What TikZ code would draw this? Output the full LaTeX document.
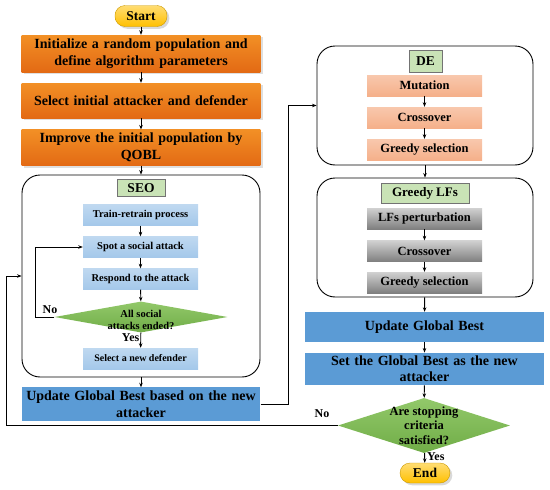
\documentclass[tikz,border=0pt]{standalone}
\usepackage{fontspec}
\setmainfont{Liberation Serif}
\usepackage{tikz}
\usetikzlibrary{shapes.geometric,arrows.meta,shadows}
\definecolor{initOrange}{HTML}{F07C2C}
\definecolor{initOrangeDark}{HTML}{E36A14}
\definecolor{bestBlue}{HTML}{5B9BD5}
\definecolor{seoBlue}{HTML}{A4C8EA}
\definecolor{tagGreen}{HTML}{C9E3B6}
\definecolor{decGreen}{HTML}{70AD47}
\definecolor{decGreenLight}{HTML}{92C86A}
\definecolor{deSalmon}{HTML}{F5B08A}
\definecolor{termYellow}{HTML}{FFC000}

\begin{document}
\begin{tikzpicture}[x=1pt, y=-1pt, font=\bfseries,
    arrow/.style={-{Stealth[length=4.5pt,width=3.5pt]}, line width=0.9pt},
    terminal/.style={rounded corners=10pt, top color=termYellow!55, bottom color=termYellow,
      draw=termYellow!80!black, line width=0.4pt, drop shadow={opacity=0.3},
      minimum width=52pt, minimum height=21pt, font=\bfseries\fontsize{13.5}{15}\selectfont},
    initbox/.style={top color=initOrange!85!yellow, bottom color=initOrangeDark, draw=none,
      drop shadow={opacity=0.25}, minimum width=238pt, text width=232pt, align=center,
      font=\bfseries\fontsize{14}{17}\selectfont},
    bestbox/.style={fill=bestBlue, minimum width=238pt, text width=232pt, align=center,
      font=\bfseries\fontsize{14}{16.5}\selectfont},
    container/.style={draw, line width=0.9pt, rounded corners=18pt},
    tagbox/.style={fill=tagGreen, draw=black!55, line width=0.5pt, inner sep=2pt,
      font=\bfseries\fontsize{13.5}{15}\selectfont},
    seostep/.style={top color=seoBlue!70, bottom color=seoBlue, minimum width=115pt,
      minimum height=21pt, font=\bfseries\fontsize{10.5}{12}\selectfont},
    destep/.style={top color=deSalmon!70, bottom color=deSalmon, minimum width=115pt,
      minimum height=21pt, font=\bfseries\fontsize{12.5}{14}\selectfont},
    lfstep/.style={top color=black!18, bottom color=black!50, minimum width=115pt,
      minimum height=21pt, font=\bfseries\fontsize{12.5}{14}\selectfont},
    decision/.style={diamond, top color=decGreenLight, bottom color=decGreen, inner sep=0pt},
    lbl/.style={font=\bfseries\fontsize{12}{13}\selectfont}]
  \useasboundingbox (0,0) rectangle (550,490);

  % left column
  \node[terminal] (start) at (141,16) {Start};
  \node[initbox, minimum height=37pt] (init) at (141,53.5)
    {Initialize a random population and\\define algorithm parameters};
  \node[initbox, minimum height=35pt] (select) at (141,100.5) {Select initial attacker and defender};
  \node[initbox, minimum height=35pt] (improve) at (141,147.5) {Improve the initial population by\\QOBL};

  % SEO block
  \node[container, minimum width=238pt, minimum height=202pt] (seo) at (141,276) {};
  \node[tagbox, minimum width=48pt, minimum height=17pt] (seotag) at (141,188) {SEO};
  \node[seostep] (train) at (140.5,215) {Train-retrain process};
  \node[seostep] (spot) at (140.5,247) {Spot a social attack};
  \node[seostep] (respond) at (140.5,279) {Respond to the attack};
  \node[decision, minimum width=173pt, minimum height=31pt] (ended) at (141,317) {};
  \node[align=center, font=\bfseries\fontsize{10.5}{12.5}\selectfont] (endedtxt) at (141,320)
    {All social\\attacks ended?};
  \node[seostep, font=\bfseries\fontsize{10}{11}\selectfont] (newdef) at (140.5,358.5) {Select a new defender};

  \node[bestbox, minimum height=32pt] (upd) at (141,404) {Update Global Best based on the new\\attacker};

  % right column
  \node[container, minimum width=216pt, minimum height=119pt] (de) at (425,105.5) {};
  \node[tagbox, minimum width=33pt, minimum height=22pt] (detag) at (425.5,61) {DE};
  \node[destep] (mut) at (424.5,85.5) {Mutation};
  \node[destep] (cross) at (424.5,117.5) {Crossover};
  \node[destep] (greedy) at (424.5,149.5) {Greedy selection};

  \node[container, minimum width=216pt, minimum height=119pt] (lfs) at (425,237.5) {};
  \node[tagbox, minimum width=88pt, minimum height=20pt, font=\bfseries\fontsize{13}{14}\selectfont]
    (lfstag) at (425,193) {Greedy LFs};
  \node[lfstep] (perturb) at (424.5,218.5) {LFs perturbation};
  \node[lfstep] (lfcross) at (424.5,251) {Crossover};
  \node[lfstep] (lfgreedy) at (424.5,282.5) {Greedy selection};

  \node[bestbox, minimum width=237pt, minimum height=30pt] (gbest) at (424.5,327) {Update Global Best};
  \node[bestbox, minimum width=237pt, minimum height=30pt, font=\bfseries\fontsize{14}{16}\selectfont]
    (setbest) at (424.5,369) {Set the Global Best as the new\\attacker};
  \node[decision, minimum width=172pt, minimum height=55pt] (stop) at (424,425.5) {};
  \node[align=center, font=\bfseries\fontsize{12.5}{14.5}\selectfont] (stoptxt) at (424,425.5)
    {Are stopping\\criteria\\satisfied?};
  \node[terminal, minimum width=50pt, minimum height=20pt] (end) at (425,473) {End};

  % connectors
  \draw[arrow] (start) -- (init);
  \draw[arrow] (init) -- (select);
  \draw[arrow] (select) -- (improve);
  \draw[arrow] (improve) -- (seo);
  \draw[arrow] (train) -- (spot);
  \draw[arrow] (spot) -- (respond);
  \draw[arrow] (respond) -- (ended);
  \draw[arrow] (ended) -- (newdef) node[pos=0.3, left, lbl, inner sep=1pt] {Yes};
  \draw[arrow] (ended.west) -- ++(-19,0) |- (spot.west);
  \node[lbl] (nolbl) at (50,310) {No};
  \draw[arrow] (seo) -- (upd);
  \draw[arrow] (upd.east) -- ++(28,0) |- (de.west);
  \draw[arrow] (mut) -- (cross);
  \draw[arrow] (cross) -- (greedy);
  \draw[arrow] (de) -- (lfs);
  \draw[arrow] (perturb) -- (lfcross);
  \draw[arrow] (lfcross) -- (lfgreedy);
  \draw[arrow] (lfs) -- (gbest);
  \draw[arrow] (gbest) -- (setbest);
  \draw[arrow] (setbest) -- (stop);
  \draw[arrow] (stop) -- (end) node[pos=0.35, right, lbl, inner sep=2pt] {Yes};
  \draw[arrow] (stop.west) -- ++(-331,0) |- (seo.west);
  \node[lbl] (stopno) at (322,414) {No};
\end{tikzpicture}
\end{document}
